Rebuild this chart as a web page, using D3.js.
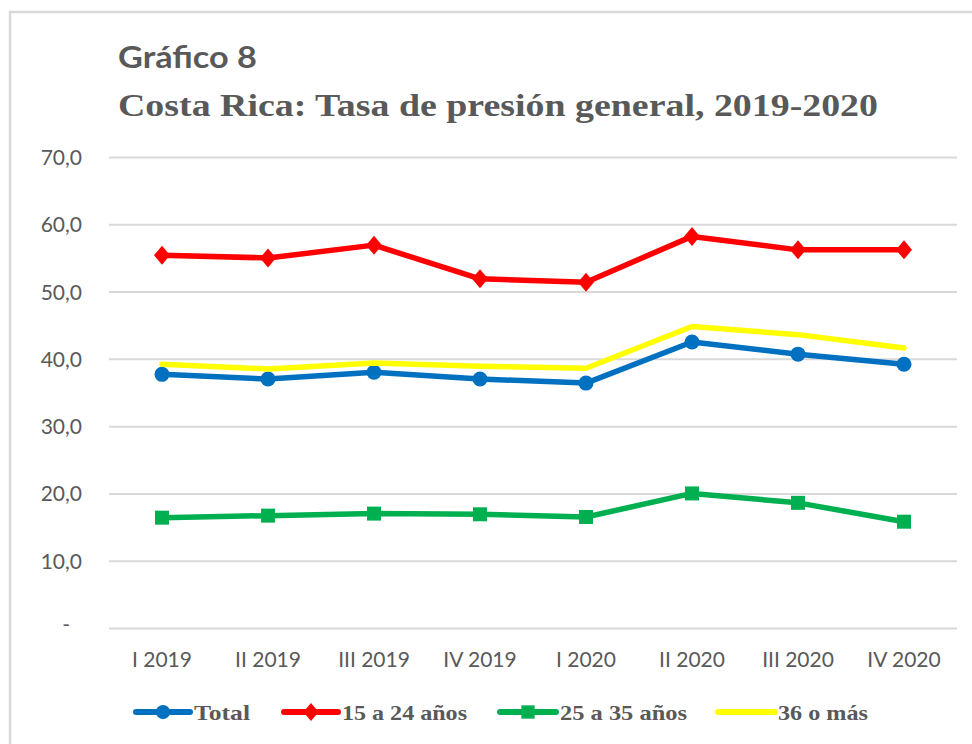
<!DOCTYPE html>
<html>
<head>
<meta charset="utf-8">
<script src="https://cdn.jsdelivr.net/npm/d3@7"></script>
<style>
  html, body { margin: 0; padding: 0; background: #fff; }
  svg { display: block; }
</style>
</head>
<body>
<div id="chart"></div>
<script>
const categories = ["I 2019", "II 2019", "III 2019", "IV 2019", "I 2020", "II 2020", "III 2020", "IV 2020"];
const total   = [37.7, 37.0, 38.0, 37.0, 36.4, 42.5, 40.7, 39.2];
const age1524 = [55.4, 55.0, 56.9, 51.9, 51.4, 58.2, 56.2, 56.2];
const age2535 = [16.4, 16.7, 17.0, 16.9, 16.5, 20.0, 18.6, 15.8];
const age36   = [39.2, 38.5, 39.4, 38.9, 38.6, 44.8, 43.6, 41.6];
const yTicks  = [0, 10, 20, 30, 40, 50, 60, 70];
const seriesNames = ["Total", "15 a 24 años", "25 a 35 años", "36 o más"];

const W = 972, H = 744;
const svg = d3.select("#chart").append("svg").attr("width", W).attr("height", H);

// outer border
svg.append("rect").attr("x", 10).attr("y", 12).attr("width", 1000).attr("height", 800)
  .attr("fill", "none").attr("stroke", "#D9D9D9").attr("stroke-width", 2.5);

const textColor = "#595959";

// titles
svg.append("text").attr("x", 118).attr("y", 68)
  .attr("font-family", "Lato, 'Open Sans', sans-serif").attr("font-weight", "bold")
  .attr("font-size", 31).attr("fill", textColor)
  .attr("textLength", 139).attr("lengthAdjust", "spacingAndGlyphs")
  .text("Gráfico 8");
svg.append("text").attr("x", 118).attr("y", 116)
  .attr("font-family", "'Liberation Serif', 'Times New Roman', serif").attr("font-weight", "bold")
  .attr("font-size", 32).attr("fill", textColor)
  .attr("textLength", 760).attr("lengthAdjust", "spacingAndGlyphs")
  .text("Costa Rica: Tasa de presión general, 2019-2020");

const x = d3.scaleBand().domain(categories).range([109, 957]);
const y = d3.scaleLinear().domain([0, 70]).range([628, 157]);

// gridlines
const grid = svg.append("g")
  .attr("transform", "translate(0,0)")
  .call(d3.axisLeft(y).tickValues(yTicks).tickSize(-(957 - 109)).tickFormat(""))
  .attr("transform", "translate(109,0)");
grid.select(".domain").remove();
grid.selectAll(".tick line").attr("stroke", "#D9D9D9").attr("stroke-width", 2);

// y labels
const fmt = v => v === 0 ? "-" : d3.format(".1f")(v).replace(".", ",");
svg.append("g").selectAll("text").data(yTicks).join("text")
  .attr("x", d => d === 0 ? 70 : 82)
  .attr("y", d => y(d) + (d === 0 ? 4 : 8))
  .attr("text-anchor", "end")
  .attr("font-family", "Lato, sans-serif").attr("font-size", 21).attr("fill", textColor)
  .text(fmt);

// x labels
svg.append("g").selectAll("text").data(categories).join("text")
  .attr("x", d => x(d) + x.bandwidth() / 2)
  .attr("y", 667)
  .attr("text-anchor", "middle")
  .attr("font-family", "Lato, sans-serif").attr("font-size", 21).attr("fill", textColor)
  .text(d => d);

const series = [
  { name: seriesNames[0], values: total,   color: "#0070C0", marker: "circle" },
  { name: seriesNames[1], values: age1524, color: "#FF0000", marker: "diamond" },
  { name: seriesNames[2], values: age2535, color: "#00B050", marker: "square" },
  { name: seriesNames[3], values: age36,   color: "#FFFF00", marker: "none" }
];

const cx = i => x(categories[i]) + x.bandwidth() / 2;
const line = d3.line().x((d, i) => cx(i)).y(d => y(d));

function drawMarker(g, type, px, py, color, scale) {
  scale = scale || 1;
  if (type === "circle") {
    g.append("circle").attr("cx", px).attr("cy", py).attr("r", 7.5 * scale).attr("fill", color);
  } else if (type === "diamond") {
    const w = 8 * scale, h = 9.5 * scale;
    g.append("path").attr("d", `M${px},${py - h}L${px + w},${py}L${px},${py + h}L${px - w},${py}Z`).attr("fill", color);
  } else if (type === "square") {
    const s = 7 * scale;
    g.append("rect").attr("x", px - s).attr("y", py - s).attr("width", 2 * s).attr("height", 2 * s).attr("fill", color);
  }
}

series.forEach(s => {
  const g = svg.append("g");
  g.append("path").datum(s.values).attr("d", line)
    .attr("fill", "none").attr("stroke", s.color).attr("stroke-width", 5.5)
    .attr("stroke-linejoin", "round").attr("stroke-linecap", "round");
  s.values.forEach((v, i) => drawMarker(g, s.marker, cx(i), y(v), s.color));
});

// legend
const legendItems = [
  { x0: 136, x1: 190, tx: 194, tl: 56 },
  { x0: 284, x1: 338, tx: 342, tl: 125 },
  { x0: 500, x1: 556, tx: 560, tl: 127 },
  { x0: 718, x1: 775, tx: 778, tl: 90 }
];
const ly = 712;
series.forEach((s, i) => {
  const L = legendItems[i];
  const g = svg.append("g");
  g.append("line").attr("x1", L.x0).attr("x2", L.x1).attr("y1", ly).attr("y2", ly)
    .attr("stroke", s.color).attr("stroke-width", 6).attr("stroke-linecap", "round");
  drawMarker(g, s.marker, (L.x0 + L.x1) / 2, ly, s.color, 0.95);
  g.append("text").attr("x", L.tx).attr("y", ly + 8)
    .attr("font-family", "'Liberation Serif', 'Times New Roman', serif").attr("font-weight", "bold")
    .attr("font-size", 22).attr("fill", textColor)
    .attr("textLength", L.tl).attr("lengthAdjust", "spacingAndGlyphs")
    .text(s.name);
});
</script>
</body>
</html>
